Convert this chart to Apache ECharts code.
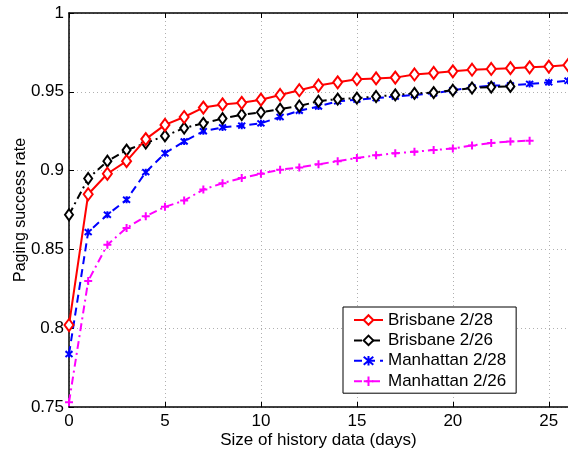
<!DOCTYPE html>
<html><head><meta charset="utf-8">
<script src="https://cdn.jsdelivr.net/npm/echarts@6/dist/echarts.min.js"></script>
<style>html,body{margin:0;padding:0;background:#fff}#c{width:568px;height:451px}</style>
</head><body><div id="c"></div>
<script>
const days = [0,1,2,3,4,5,6,7,8,9,10,11,12,13,14,15,16,17,18,19,20,21,22,23,24,25,26];
const brisbane228 = [0.802,0.885,0.898,0.906,0.920,0.929,0.934,0.940,0.942,0.943,0.945,0.948,0.951,0.954,0.956,0.958,0.9585,0.959,0.961,0.962,0.963,0.964,0.9645,0.965,0.9655,0.966,0.967];
const brisbane226 = [0.872,0.895,0.906,0.913,0.9175,0.922,0.927,0.930,0.933,0.9355,0.937,0.939,0.941,0.944,0.9454,0.946,0.947,0.948,0.949,0.9495,0.951,0.9524,0.953,0.9534];
const manhattan228 = [0.7836,0.861,0.872,0.8815,0.899,0.911,0.9185,0.925,0.9274,0.9285,0.930,0.934,0.938,0.9407,0.944,0.945,0.946,0.947,0.948,0.949,0.951,0.9528,0.954,0.954,0.955,0.956,0.957];
const manhattan226 = [0.753,0.830,0.853,0.8636,0.871,0.877,0.881,0.888,0.892,0.8953,0.898,0.9006,0.902,0.904,0.906,0.908,0.9097,0.911,0.912,0.913,0.914,0.916,0.9175,0.9185,0.919];
const seriesNames = ['Brisbane 2/28','Brisbane 2/26','Manhattan 2/28','Manhattan 2/26'];
const xTitle = 'Size of history data (days)';
const yTitle = 'Paging success rate';

const pair = arr => arr.map((v,i)=>[days[i], v]);
const font = 'Liberation Sans, Arial, Helvetica, sans-serif';
const gridLine = {show:true, lineStyle:{color:'#b0b0b0', type:[1,3], width:1}};
const asterisk = 'path://M0,0L10,10M10,0L0,10M5,-1L5,11';
const plus = 'path://M5,0L5,10M0,5L10,5';

const chart = echarts.init(document.getElementById('c'), null, {renderer:'canvas'});
chart.setOption({
  animation:false,
  backgroundColor:'#fff',
  textStyle:{fontFamily:font},
  grid:{left:69, right:0, top:13, bottom:44, containLabel:false, outerBoundsMode:'none'},
  legend:{
    left:343, top:307, orient:'vertical',
    backgroundColor:'#fff', borderColor:'#000', borderWidth:1,
    padding:[4,10,3,10], itemWidth:29, itemHeight:12, itemGap:2.4,
    textStyle:{fontSize:17, color:'#000', fontFamily:font, lineHeight:18},
    data:seriesNames
  },
  xAxis:[{
    type:'value', min:0, max:26, interval:5,
    name:xTitle, nameLocation:'middle', nameGap:25, nameMoveOverlap:false,
    nameTextStyle:{fontSize:17, color:'#000', fontFamily:font},
    axisLine:{show:true, onZero:false, lineStyle:{color:'#000', width:1.5}},
    axisTick:{show:true, inside:true, length:5, lineStyle:{color:'#000'}},
    axisLabel:{fontSize:17, color:'#000', margin:6, showMaxLabel:false, fontFamily:font},
    splitLine:gridLine
  },{
    type:'value', min:0, max:26, interval:5, position:'top',
    axisLine:{show:true, onZero:false, lineStyle:{color:'#000', width:1.5}},
    axisTick:{show:true, inside:true, length:5, lineStyle:{color:'#000'}},
    axisLabel:{show:false}, splitLine:{show:false}
  }],
  yAxis:[{
    type:'value', min:0.75, max:1, interval:0.05,
    name:yTitle, nameLocation:'middle', nameGap:40, nameMoveOverlap:false,
    nameTextStyle:{fontSize:16, color:'#000', fontFamily:font},
    axisLine:{show:true, onZero:false, lineStyle:{color:'#000', width:1.5}},
    axisTick:{show:true, inside:true, length:5, lineStyle:{color:'#000'}},
    axisLabel:{fontSize:17, color:'#000', margin:5, fontFamily:font},
    splitLine:gridLine
  }],
  series:[
    {name:seriesNames[0], type:'line', data:pair(brisbane228),
     lineStyle:{color:'#ff0000', width:2, type:'solid'},
     symbol:'emptyDiamond', symbolSize:[9,12], showAllSymbol:true,
     itemStyle:{color:'#ff0000', borderColor:'#ff0000', borderWidth:2}, z:5},
    {name:seriesNames[1], type:'line', data:pair(brisbane226),
     lineStyle:{color:'#000', width:2, type:[8,4,2,4]},
     symbol:'emptyDiamond', symbolSize:[8,11], showAllSymbol:true,
     itemStyle:{color:'#000', borderColor:'#000', borderWidth:2}, z:4},
    {name:seriesNames[2], type:'line', data:pair(manhattan228),
     lineStyle:{color:'#0000ff', width:2, type:[8,5]},
     symbol:asterisk, symbolSize:7, showAllSymbol:true,
     itemStyle:{color:'#0000ff', borderColor:'#0000ff', borderWidth:2}, z:3},
    {name:seriesNames[3], type:'line', data:pair(manhattan226),
     lineStyle:{color:'#ff00ff', width:2, type:[8,4,2,4]},
     symbol:plus, symbolSize:8, showAllSymbol:true,
     itemStyle:{color:'#ff00ff', borderColor:'#ff00ff', borderWidth:2}, z:2}
  ]
});
</script></body></html>
